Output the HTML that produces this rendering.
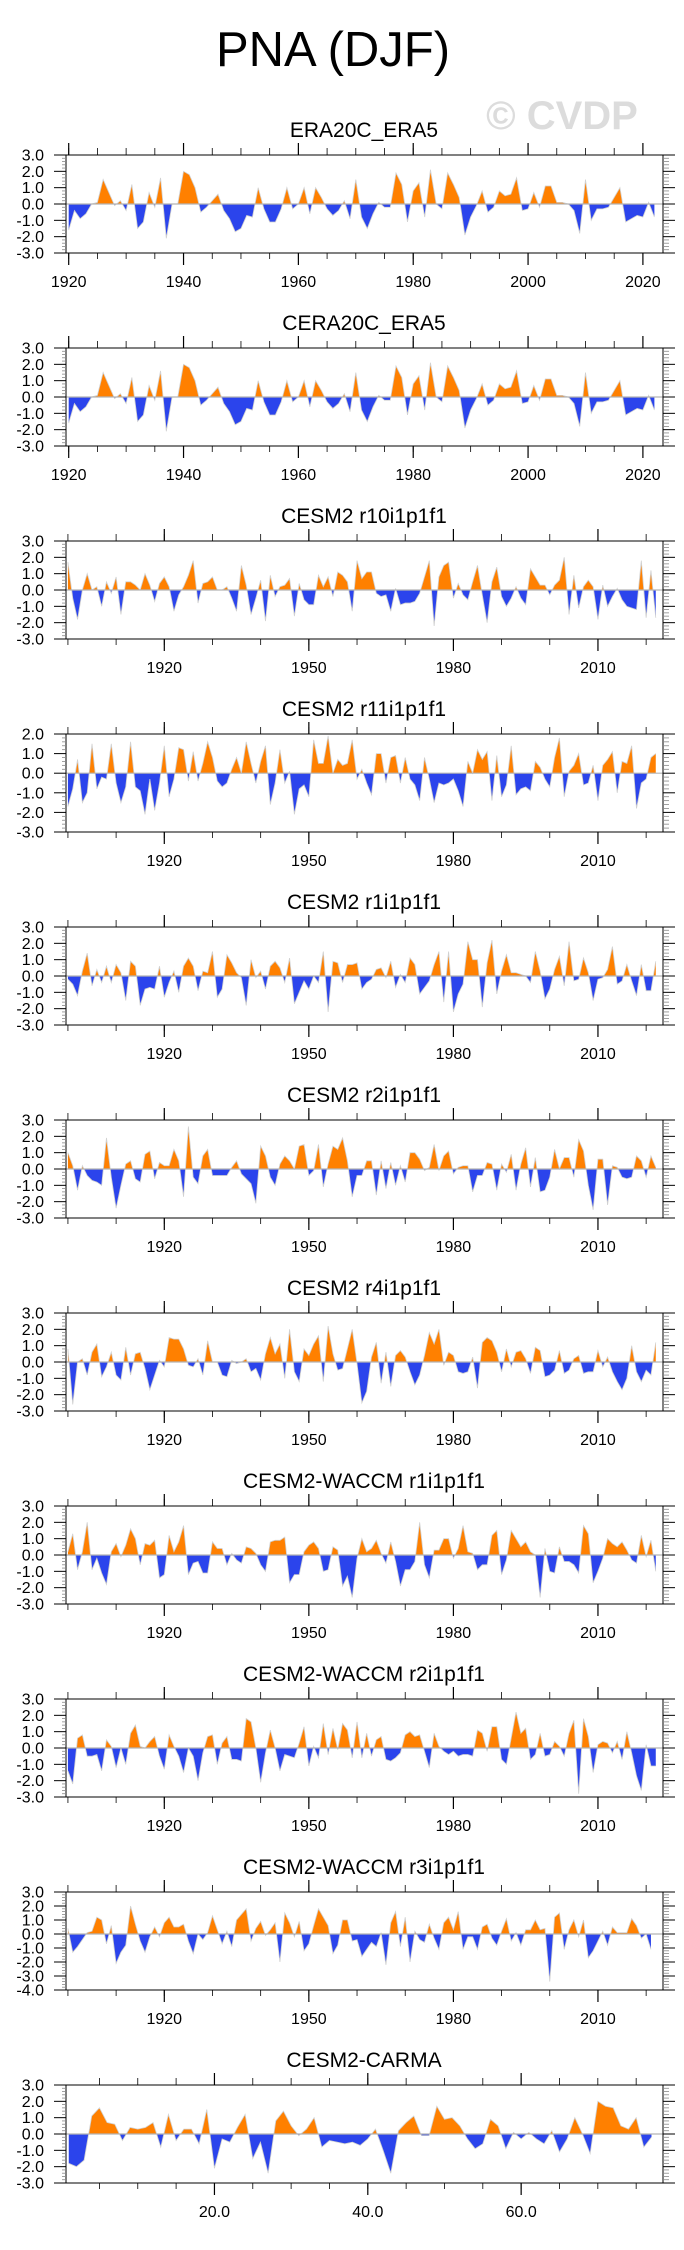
<!DOCTYPE html>
<html>
<head>
<meta charset="utf-8">
<style>
  html,body{margin:0;padding:0;background:#fff;}
  svg{display:block;font-family:"Liberation Sans",Arial,sans-serif;}
</style>
</head>
<body>
<svg id="chart" width="684" height="2250" viewBox="0 0 684 2250" xmlns="http://www.w3.org/2000/svg">
  <rect x="0" y="0" width="684" height="2250" fill="#fff"/>
  <text x="333" y="66" font-size="49" text-anchor="middle" fill="#000">PNA (DJF)</text>
  <text x="562" y="129" font-size="40" font-weight="bold" text-anchor="middle" fill="#dcdcdc">© CVDP</text>
</svg>
<script>
// ---- data (one array per series) ----
const era20cStart = 1920;
const era20cVals = [-1.6,-0.4,-0.9,-0.6,0,0.1,1.5,0.7,-0.1,0.2,-0.4,1.2,-1.5,-1.1,0.7,-0.2,1.6,-2.1,0,0,2.0,1.8,1.0,-0.5,-0.2,0.2,0.6,-0.4,-0.9,-1.7,-1.5,-0.7,-0.8,1.0,-0.3,-1.1,-1.1,-0.3,1.0,-0.3,0,1.0,-0.6,1.0,0.4,-0.3,-0.7,-0.4,0.2,-0.9,1.5,-0.8,-1.5,-0.6,0.1,-0.2,-0.2,1.9,1.2,-1.1,0.8,1.3,-0.8,2.1,0,-0.3,1.9,1.2,0.4,-1.9,-0.8,-0.1,0.8,-0.5,-0.2,0.8,0.5,0.6,1.6,-0.4,-0.3,0.7,-0.2,1.1,1.1,0.1,0.1,0,-0.4,-1.8,1.5,-1.0,-0.3,-0.3,-0.2,0.4,1.0,-1.1,-0.9,-0.7,-0.8,0.1,-0.8];
const cera20cVals = [-1.6,-0.4,-0.9,-0.6,0,0.1,1.5,0.7,-0.1,0.2,-0.4,1.2,-1.5,-1.1,0.7,-0.2,1.6,-2.1,0,0,2.0,1.8,1.0,-0.5,-0.2,0.2,0.6,-0.4,-0.9,-1.7,-1.5,-0.7,-0.8,1.0,-0.3,-1.1,-1.1,-0.3,1.0,-0.3,0,1.0,-0.6,1.0,0.4,-0.3,-0.7,-0.4,0.2,-0.9,1.5,-0.8,-1.5,-0.6,0.1,-0.2,-0.2,1.9,1.2,-1.1,0.8,1.3,-0.8,2.1,0,-0.3,1.9,1.2,0.4,-1.9,-0.8,-0.1,0.8,-0.5,-0.2,0.8,0.5,0.6,1.6,-0.4,-0.3,0.7,-0.2,1.1,1.1,0.1,0.1,0,-0.4,-1.8,1.5,-1.0,-0.3,-0.3,-0.2,0.4,1.0,-1.1,-0.9,-0.7,-0.8,0.1,-0.8];
const modelStart = 1900;
const r10Vals = [1.7,-0.5,-1.8,0,1.0,0,0.2,-1.0,0.5,-0.2,0.8,-1.5,0.5,0.5,0.3,0,1.0,0.3,-0.7,0.4,0.8,0.2,-1.3,-0.3,0.2,0.9,1.8,-0.8,0.4,0.5,0.8,0,0,0.2,-0.5,-1.3,1.5,0.3,-1.5,-0.5,0.6,-1.9,0.9,-0.4,0.2,0.3,0.7,-1.6,0.4,-0.6,-0.9,-0.9,0.9,0.2,0.8,-0.4,1.1,0.9,0.5,-1.3,1.8,0.7,1.1,1.1,-0.2,-0.4,-0.3,-1.3,0.1,-0.9,-0.8,-0.8,-0.7,-0.2,0.8,1.8,-2.2,0.8,1.5,1.7,-0.5,0.4,-0.3,-0.6,0.5,1.5,-0.3,-2.0,0.5,1.4,-0.4,-1.0,-0.5,0.2,-0.5,-0.9,1.3,0.8,0.3,0.3,-0.3,0.3,0.6,2.0,-1.5,0.9,-1.1,0.2,0.6,0.2,-1.8,0.3,-1.0,-0.4,0.1,-0.6,-1.0,-1.1,-1.2,1.8,-1.7,1.2,-1.7];
const r11Vals = [-1.7,-0.8,0.7,-1.5,-1.0,1.5,-0.8,-0.2,-0.3,1.5,-0.5,-1.5,-0.7,1.6,-0.7,-0.9,-2.1,-0.3,-1.9,-0.5,1.4,-1.2,-0.3,1.3,1.2,-0.4,1.1,-0.4,0.5,1.6,0.8,-0.4,-0.7,-0.5,0.2,0.8,0,1.6,0.5,-0.5,0.6,1.4,-1.6,-0.5,1.2,-0.5,0.1,-2.1,-0.8,-0.6,-1.2,1.7,0.5,0.5,1.9,0,0.7,0.4,0.5,1.7,-0.3,0.2,-0.5,-1.1,1.0,1.0,-0.5,0.8,0.9,-0.5,0.8,-0.3,-0.6,-1.4,0.8,-0.3,-1.5,-0.5,-0.6,-0.5,-0.3,-0.9,-1.7,0.6,0,1.2,0.7,1.1,-1.4,0.9,-1.2,-0.6,1.4,-1.1,-0.8,-0.7,-0.9,0.6,0.3,-0.3,-0.7,0.8,1.8,-1.2,0.1,0.4,1.0,-0.6,-0.5,0.4,-1.4,0.4,0.7,1.1,-1.0,0.6,0.5,1.4,-1.8,-0.5,-0.3,0.8,1.0];
const r1Vals = [-0.2,-0.5,-1.2,0.3,1.4,-0.6,0.4,-0.4,0.6,-0.4,0.7,0.2,-1.5,0.9,0.6,-1.8,-0.8,-0.7,-0.8,0.6,-1.3,-0.4,0.3,-1.0,0.6,1.1,0.6,-0.9,0.3,0.2,1.5,-1.3,-0.8,1.3,0.8,0.2,-0.1,-1.8,1.0,-0.1,0.3,-0.8,0.6,0.9,0.5,-0.4,1.1,-1.7,-1.0,-0.3,-0.8,0,-0.4,1.5,-2.2,0.9,0.8,-0.4,0.7,0.7,0.8,-0.8,-0.4,-0.2,0.4,0.5,-0.1,0.9,-0.7,0.1,-0.4,1.1,0.7,-1.1,-0.7,-0.3,0.7,1.5,-1.6,1.5,-2.2,-1.1,-0.5,2.1,1.0,1.0,-1.9,0.8,2.2,-1.1,0.3,1.3,0.2,0.2,0.1,0,-0.4,1.5,0.3,-1.4,-0.8,0.4,1.2,-0.6,2.1,-0.3,-0.2,1.1,0.2,-1.5,-0.2,-0.1,0.4,1.8,-0.5,-0.3,0.7,-0.3,-1.2,0.7,-0.9,-0.9,0.9];
const r2Vals = [1.0,0.2,-1.3,0.2,-0.4,-0.7,-0.8,-1.0,1.9,-0.5,-2.4,-1.0,0.3,0.5,-0.6,-0.8,0.9,1.1,-0.6,0.4,0.2,0.2,1.2,0.5,-1.7,2.6,-0.5,-0.9,0.8,1.2,-0.4,-0.4,-0.4,-0.4,0.1,0.5,-0.3,-0.6,-0.9,-2.1,1.4,0.8,-0.5,-1.0,0.3,0.8,0.5,0,1.4,1.5,-0.4,-0.1,1.5,-1.1,0.3,1.4,1.2,1.9,0.5,-1.7,-0.4,-0.4,0.5,0.5,-1.6,0.5,-1.2,0.4,-1.0,0.2,-0.8,1.0,1.0,0.6,-0.1,0.1,1.5,-0.1,0.8,1.1,-0.3,0.1,0.2,0.2,-1.4,-0.4,-0.4,0.4,0.3,-1.3,0.3,-0.2,0.9,-1.3,0.3,1.3,-1.1,0.7,-1.4,-1.3,-0.5,1.2,0,0.7,0.7,-0.5,1.8,1.1,-1.0,-2.5,0.6,0.6,-2.2,0.2,0.1,-0.5,-0.6,-0.5,0.8,0.5,-0.5,0.8,0.1];
const r4Vals = [0.8,-2.6,0,0.2,-0.8,0.6,1.1,-0.9,-0.3,0.6,-0.8,-1.1,0.9,-0.8,0.5,0.6,-0.4,-1.7,-0.8,0.1,-0.3,1.5,1.4,1.4,0.8,-0.2,-0.3,0.2,-0.8,1.3,0,0,-0.8,-0.9,0.1,-0.1,0.0,0.2,-0.6,-0.4,-1.1,0.5,1.5,0.5,1.1,-1.0,2.0,-0.6,-1.2,0.8,0.4,1.1,1.6,-1.2,2.2,0.5,-0.5,-0.4,0.8,2.0,-0.1,-2.5,-1.8,0.3,1.2,-1.3,0.6,-1.5,0.4,0.7,0.3,-0.6,-1.4,-0.8,0.4,1.8,1.1,2.0,-0.2,0.6,0.4,-0.6,-0.7,-0.6,0.3,-1.6,1.2,1.5,1.3,0.6,-0.6,0.8,-0.3,0.6,0.7,0.2,-0.7,0.9,0.7,-0.9,-0.8,-0.5,0.7,-0.7,-0.5,0.2,0.4,-0.7,-0.6,-0.6,0.7,-0.3,0.3,-0.6,-1.2,-1.7,-1.0,1.0,-0.6,-1.2,-0.5,-0.8,1.2];
const waccmR1Vals = [0.2,1.3,-0.9,0.2,2.0,-0.9,-0.2,-1.1,-1.8,0.2,0.7,-0.1,0.6,1.6,1.0,-0.6,0.7,0.6,0.9,-1.4,-1.2,1.2,0.2,0.8,1.8,-1.2,-0.5,-0.4,-1.1,-1.1,0.8,0.4,0.4,-0.6,0.1,-0.3,-0.5,0.5,0.4,0.1,-0.6,-1.0,0.8,0.9,0.9,1.1,-1.7,-1.2,-1.2,0.2,0.6,0.8,0.4,-1.0,-0.9,0.5,0.3,-1.9,-1.3,-2.6,-0.2,1.0,0.2,0.4,0.9,0.1,-0.5,0.8,-0.4,-1.9,-0.9,-0.9,-0.4,2.0,-0.6,-1.4,0.3,0.3,1.0,1.0,-0.2,0.4,1.8,0.2,0.1,-0.9,-0.6,-0.6,1.2,1.5,-1.2,-0.3,1.5,1.0,0.5,0.8,0.2,0,-2.6,0.4,-1.0,-1.1,0.5,-0.4,-0.4,-0.6,-1.1,1.8,1.3,-1.7,-1.0,-0.2,1.0,0.7,0.5,0.8,0.3,-0.3,-0.5,1.2,-0.1,0.9,-1.0];
const waccmR2Vals = [-1.4,-2.2,0.6,0.8,-0.5,-0.5,-0.4,-1.4,0.5,0.1,-1.2,0,-1.0,0.9,1.4,0.1,0,0.4,0.7,-0.5,-1.3,0.8,0.1,-0.5,-1.5,0,-0.5,-2.0,-0.3,0.7,0.8,-1.0,0.3,0.7,-0.7,-0.7,-0.8,1.8,1.6,0,-2.1,-0.3,1.1,0,-1.4,-0.4,-0.5,-0.6,0.3,1.3,-1.1,0.1,-0.6,1.5,-0.4,1.2,-0.1,1.5,1.1,-0.6,1.6,-0.6,0.9,-0.5,0.5,0.7,-0.7,-0.8,-0.6,-0.3,0.8,1.0,0.7,0.8,-0.2,-1.2,0.9,0.1,-0.2,-0.4,-0.2,-0.5,-0.4,-0.4,-0.5,1.1,0.9,-0.2,1.3,1.3,-0.7,-1.0,0.6,2.2,0.9,1.2,-0.7,-0.4,0.9,-0.5,-0.4,0.4,0.1,-0.5,0.9,1.7,-2.8,1.8,0.7,-1.5,0.2,0.4,0.3,-0.3,0.4,-0.7,1.0,-0.3,-1.7,-2.6,0.2,-1.1,-1.1];
const waccmR3Vals = [0.4,-1.3,-0.9,-0.4,0.1,0.2,1.2,1.0,-0.7,0.6,-2.1,-1.3,-0.8,2.0,0.7,-0.5,-1.3,-0.2,0.5,-0.2,0.8,1.2,0.5,0.5,0.7,-0.5,-1.4,0,-0.4,0.1,1.3,0.3,-0.7,0.2,-0.9,1.0,1.4,1.8,-0.5,0.4,0.9,-0.1,0.3,0.8,-2.0,1.5,0.8,-0.2,0.9,-1.2,-0.7,0.6,1.8,1.2,0.6,-1.4,-0.8,1.0,1.0,-0.5,-0.4,-1.6,-1.1,-0.6,-0.9,0.1,-2.2,0.8,1.6,-0.9,1.2,-2.0,0.2,-0.4,-0.6,0.7,-0.3,-1.1,0.8,1.2,0.3,1.6,-1.1,-0.2,-0.2,-1.1,0.5,0.7,-0.3,-0.8,0.2,1.1,-0.5,0.1,-0.8,0.3,0.3,1.0,0.3,0.4,-3.4,1.2,1.5,-1.1,0.3,1.0,-0.2,1.0,-1.7,-1.2,-0.5,0.2,-0.8,0.5,0.1,0.1,0.1,1.1,0.6,-0.3,0,-1.1];
const carmaStart = 1;
const carmaVals = [-1.8,-2.0,-1.6,1.1,1.6,0.7,0.6,-0.4,0.4,0.3,0.4,0.7,-0.8,1.2,-0.4,0.3,0.3,-0.6,1.5,-2.1,-0.3,-0.5,0.4,1.2,-1.5,-0.5,-2.4,0.8,1.4,0.5,-0.1,0.3,1.0,-0.8,-0.4,-0.5,-0.6,-0.5,-0.7,-0.3,0.3,-1.0,-2.4,0.2,0.7,1.1,-0.1,-0.1,1.7,0.9,1.0,0.5,-0.3,-0.9,-0.6,0.9,0.5,-0.9,0.1,-0.3,0.1,-0.3,-0.6,0.2,-1.1,-0.3,1.0,0,-1.2,2.0,1.7,1.6,0.5,0.3,1.0,-0.8,-0.2];
const panelTitles = ["ERA20C_ERA5","CERA20C_ERA5","CESM2 r10i1p1f1","CESM2 r11i1p1f1","CESM2 r1i1p1f1","CESM2 r2i1p1f1","CESM2 r4i1p1f1","CESM2-WACCM r1i1p1f1","CESM2-WACCM r2i1p1f1","CESM2-WACCM r3i1p1f1","CESM2-CARMA"];
const obsTickLabels = [1920,1940,1960,1980,2000,2020];
const modelTickLabels = [1920,1950,1980,2010];
const carmaTickLabels = [20,40,60];

// ---- layout ----
const svg = document.getElementById('chart');
const NS = 'http://www.w3.org/2000/svg';
const PL = 66, PR = 663, PH = 98;
function mk(tag, attrs){ const e = document.createElementNS(NS, tag); for (const k in attrs) e.setAttribute(k, attrs[k]); return e; }

const panels = [
  {vals: era20cVals, start: era20cStart, xd:[1919.53,2023.5], yd:[-3,3], majors: obsTickLabels, minorStep:5, minorFrom:1920, fmt:v=>String(v), slug:'era20c-era5'},
  {vals: cera20cVals, start: era20cStart, xd:[1919.53,2023.5], yd:[-3,3], majors: obsTickLabels, minorStep:5, minorFrom:1920, fmt:v=>String(v), slug:'cera20c-era5'},
  {vals: r10Vals, start: modelStart, xd:[1899.6,2023.5], yd:[-3,3], majors: modelTickLabels, minorStep:10, minorFrom:1900, fmt:v=>String(v), slug:'cesm2-r10'},
  {vals: r11Vals, start: modelStart, xd:[1899.6,2023.5], yd:[-3,2], majors: modelTickLabels, minorStep:10, minorFrom:1900, fmt:v=>String(v), slug:'cesm2-r11'},
  {vals: r1Vals, start: modelStart, xd:[1899.6,2023.5], yd:[-3,3], majors: modelTickLabels, minorStep:10, minorFrom:1900, fmt:v=>String(v), slug:'cesm2-r1'},
  {vals: r2Vals, start: modelStart, xd:[1899.6,2023.5], yd:[-3,3], majors: modelTickLabels, minorStep:10, minorFrom:1900, fmt:v=>String(v), slug:'cesm2-r2'},
  {vals: r4Vals, start: modelStart, xd:[1899.6,2023.5], yd:[-3,3], majors: modelTickLabels, minorStep:10, minorFrom:1900, fmt:v=>String(v), slug:'cesm2-r4'},
  {vals: waccmR1Vals, start: modelStart, xd:[1899.6,2023.5], yd:[-3,3], majors: modelTickLabels, minorStep:10, minorFrom:1900, fmt:v=>String(v), slug:'waccm-r1'},
  {vals: waccmR2Vals, start: modelStart, xd:[1899.6,2023.5], yd:[-3,3], majors: modelTickLabels, minorStep:10, minorFrom:1900, fmt:v=>String(v), slug:'waccm-r2'},
  {vals: waccmR3Vals, start: modelStart, xd:[1899.6,2023.5], yd:[-4,3], majors: modelTickLabels, minorStep:10, minorFrom:1900, fmt:v=>String(v), slug:'waccm-r3'},
  {vals: carmaVals, start: carmaStart, xd:[0.64,78.5], yd:[-3,3], majors: carmaTickLabels, minorStep:5, minorFrom:5, fmt:v=>v.toFixed(1), slug:'cesm2-carma'}
];

panels.forEach((p, i) => {
  const top = 155 + 193 * i, bot = top + PH;
  const xs = v => PL + (v - p.xd[0]) / (p.xd[1] - p.xd[0]) * (PR - PL);
  const ys = v => bot - (v - p.yd[0]) / (p.yd[1] - p.yd[0]) * PH;
  const g = mk('g', {});
  
  
  svg.appendChild(g);

  const title = mk('text', {x: 364, y: top - 18, 'font-size': 21, 'text-anchor': 'middle', fill: '#000'});
  
  
  title.textContent = panelTitles[i];
  g.appendChild(title);

  // clip paths for positive / negative fills
  const y0 = ys(0);
  const defs = mk('defs', {});
  const cpU = mk('clipPath', {id: 'up' + i}); cpU.appendChild(mk('rect', {x: PL, y: top, width: PR - PL, height: y0 - top}));
  const cpD = mk('clipPath', {id: 'dn' + i}); cpD.appendChild(mk('rect', {x: PL, y: y0, width: PR - PL, height: bot - y0}));
  defs.appendChild(cpU); defs.appendChild(cpD); g.appendChild(defs);

  const pts = p.vals.map((v, k) => xs(p.start + k).toFixed(2) + ',' + ys(v).toFixed(2));
  const xFirst = xs(p.start).toFixed(2), xLast = xs(p.start + p.vals.length - 1).toFixed(2);
  const polyPts = xFirst + ',' + y0.toFixed(2) + ' ' + pts.join(' ') + ' ' + xLast + ',' + y0.toFixed(2);

  const pos = mk('polygon', {points: polyPts, fill: '#ff8000', 'clip-path': 'url(#up' + i + ')'});
  
  
  g.appendChild(pos);
  const neg = mk('polygon', {points: polyPts, fill: '#2b44ec', 'clip-path': 'url(#dn' + i + ')'});
  
  
  g.appendChild(neg);
  const line = mk('polyline', {points: pts.join(' '), fill: 'none', stroke: '#d0d0d0', 'stroke-width': 0.8});
  
  
  g.appendChild(line);

  const zl = mk('line', {x1: PL, x2: PR, y1: y0, y2: y0, stroke: '#b4b4b4', 'stroke-width': 1.2});
  
  
  g.appendChild(zl);

  const frame = mk('rect', {x: PL, y: top, width: PR - PL, height: PH, fill: 'none', stroke: '#000', 'stroke-width': 1});
  
  
  g.appendChild(frame);

  // y ticks
  const ya = mk('g', {});
  
  
  g.appendChild(ya);
  for (let t = p.yd[0]; t <= p.yd[1] + 1e-6; t += 0.2) {
    const yy = ys(t);
    const isMaj = Math.abs(t - Math.round(t)) < 1e-6;
    if (isMaj) {
      ya.appendChild(mk('line', {x1: PL - 12, x2: PL, y1: yy, y2: yy, stroke: '#000', 'stroke-width': 1}));
      ya.appendChild(mk('line', {x1: PR, x2: PR + 12, y1: yy, y2: yy, stroke: '#000', 'stroke-width': 1}));
      const lb = mk('text', {x: 44, y: yy + 5.5, 'font-size': 16, 'text-anchor': 'end', fill: '#000'});
      
      
      lb.textContent = Math.round(t).toFixed(1);
      ya.appendChild(lb);
    } else {
      ya.appendChild(mk('line', {x1: PL - 4, x2: PL, y1: yy, y2: yy, stroke: '#888', 'stroke-width': 0.8}));
      ya.appendChild(mk('line', {x1: PR, x2: PR + 6, y1: yy, y2: yy, stroke: '#888', 'stroke-width': 0.8}));
    }
  }
  // x ticks
  const xa = mk('g', {});
  
  
  g.appendChild(xa);
  for (let t = p.minorFrom; t <= p.xd[1]; t += p.minorStep) {
    if (t < p.xd[0]) continue;
    const xx = xs(t);
    xa.appendChild(mk('line', {x1: xx, x2: xx, y1: top - 7, y2: top, stroke: '#000', 'stroke-width': 0.8}));
    xa.appendChild(mk('line', {x1: xx, x2: xx, y1: bot, y2: bot + 6, stroke: '#000', 'stroke-width': 0.8}));
  }
  p.majors.forEach(t => {
    const xx = xs(t);
    xa.appendChild(mk('line', {x1: xx, x2: xx, y1: top - 12, y2: top, stroke: '#000', 'stroke-width': 1.2}));
    xa.appendChild(mk('line', {x1: xx, x2: xx, y1: bot, y2: bot + 12, stroke: '#000', 'stroke-width': 1.2}));
    const lb = mk('text', {x: xx, y: bot + 34, 'font-size': 16, 'text-anchor': 'middle', fill: '#000'});
    
    
    lb.textContent = p.fmt(t);
    xa.appendChild(lb);
  });
});
</script>
</body>
</html>
